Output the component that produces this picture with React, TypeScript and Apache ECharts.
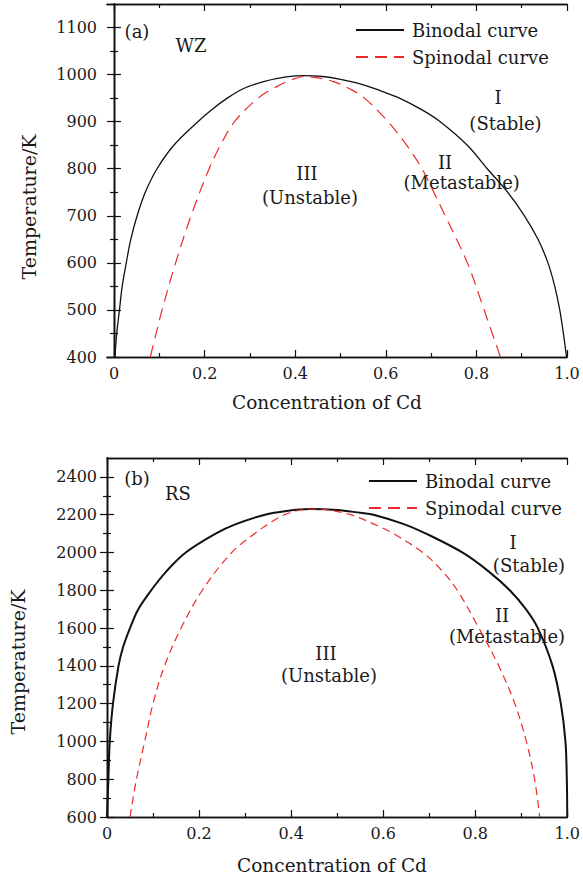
import React, { useEffect, useRef } from "react";
import * as echarts from "echarts";

// ---- data ----
const X_MAJOR = [0, 0.2, 0.4, 0.6, 0.8, 1.0];
const X_MINOR = [0.1, 0.3, 0.5, 0.7, 0.9];
const WZ_T_MAJOR = [400, 500, 600, 700, 800, 900, 1000, 1100];
const WZ_T_MINOR = [450, 550, 650, 750, 850, 950, 1050];
const RS_T_MAJOR = [600, 800, 1000, 1200, 1400, 1600, 1800, 2000, 2200, 2400];
const RS_T_MINOR = [700, 900, 1100, 1300, 1500, 1700, 1900, 2100, 2300];

const WZ_BINODAL_X = [0.002, 0.006, 0.012, 0.018, 0.027, 0.037, 0.051, 0.069, 0.095, 0.132, 0.185, 0.215, 0.25, 0.285, 0.33, 0.38, 0.42, 0.46, 0.5, 0.545, 0.59, 0.63, 0.68, 0.72, 0.78, 0.824, 0.869, 0.906, 0.936, 0.958, 0.973, 0.984, 0.992, 0.999];
const WZ_BINODAL_T = [400, 450, 500, 550, 600, 650, 700, 750, 800, 850, 900, 925, 950, 970, 985, 995, 998, 996, 990, 980, 965, 950, 925, 900, 850, 800, 750, 700, 650, 600, 550, 500, 450, 400];

const WZ_SPINODAL_X = [0.08, 0.093, 0.106, 0.136, 0.17, 0.21, 0.235, 0.266, 0.318, 0.36, 0.395, 0.42, 0.45, 0.485, 0.52, 0.553, 0.605, 0.646, 0.68, 0.706, 0.731, 0.78, 0.817, 0.853];
const WZ_SPINODAL_T = [400, 450, 500, 600, 700, 800, 850, 900, 950, 975, 990, 996, 993, 985, 970, 950, 900, 850, 800, 750, 700, 600, 500, 400];

const RS_BINODAL_X = [0.0, 0.003, 0.006, 0.013, 0.025, 0.035, 0.05, 0.068, 0.096, 0.129, 0.171, 0.236, 0.28, 0.343, 0.39, 0.44, 0.5, 0.55, 0.579, 0.645, 0.693, 0.772, 0.829, 0.875, 0.91, 0.936, 0.968, 0.986, 0.996, 0.999, 1.0];
const RS_BINODAL_T = [600, 800, 1000, 1200, 1400, 1500, 1600, 1700, 1800, 1900, 2000, 2100, 2150, 2200, 2220, 2230, 2225, 2210, 2200, 2150, 2100, 2000, 1900, 1800, 1700, 1600, 1400, 1200, 1000, 800, 600];

const RS_SPINODAL_X = [0.05, 0.064, 0.082, 0.1, 0.125, 0.161, 0.207, 0.271, 0.321, 0.35, 0.386, 0.44, 0.48, 0.529, 0.58, 0.622, 0.686, 0.729, 0.761, 0.808, 0.851, 0.886, 0.911, 0.929, 0.94];
const RS_SPINODAL_T = [600, 800, 1000, 1200, 1400, 1600, 1800, 2000, 2100, 2150, 2200, 2230, 2225, 2200, 2150, 2100, 2000, 1900, 1800, 1600, 1400, 1200, 1000, 800, 600];

const SERIES_NAMES = ["Binodal curve", "Spinodal curve"];
const X_TITLE = "Concentration of Cd";
const Y_TITLE = "Temperature/K";

const zip = (xs: number[], ys: number[]) => xs.map((x, i) => [x, ys[i]]);

const FONT = "DejaVu Serif";
const INK = "#1a1a1a";
const RED = "#ee2a2a";
const TICK_FONT = 16;

function xAxes(grid: number, min: number, max: number) {
  const base = {
    type: "value",
    gridIndex: grid,
    min,
    max,
    splitLine: { show: false },
    axisLine: { show: true, lineStyle: { color: "#111", width: 1.3 } },
  };
  const major = { show: true, inside: true, length: 7, customValues: X_MAJOR, lineStyle: { color: "#111", width: 1.2 } };
  const minor = { show: true, inside: true, length: 4, customValues: X_MINOR, lineStyle: { color: "#111", width: 1.2 } };
  return [
    {
      ...base,
      position: "bottom",
      axisTick: major,
      axisLabel: {
        show: true,
        customValues: X_MAJOR,
        formatter: (v: number) => (v === 0 ? "0" : v.toFixed(1)),
        margin: 8,
        fontFamily: FONT,
        fontSize: TICK_FONT,
        color: INK,
      },
    },
    { ...base, position: "bottom", axisTick: minor, axisLabel: { show: false } },
    { ...base, position: "top", axisTick: major, axisLabel: { show: false } },
    { ...base, position: "top", axisTick: minor, axisLabel: { show: false } },
  ];
}

function yAxes(grid: number, min: number, max: number, majors: number[], minors: number[]) {
  const base = {
    type: "value",
    gridIndex: grid,
    min,
    max,
    splitLine: { show: false },
    axisLine: { show: true, lineStyle: { color: "#111", width: 1.3 } },
  };
  const major = { show: true, inside: true, length: 7, customValues: majors, lineStyle: { color: "#111", width: 1.2 } };
  const minor = { show: true, inside: true, length: 4, customValues: minors, lineStyle: { color: "#111", width: 1.2 } };
  return [
    {
      ...base,
      position: "left",
      axisTick: major,
      axisLabel: {
        show: true,
        customValues: majors,
        formatter: (v: number) => String(Math.round(v)),
        margin: 10,
        fontFamily: FONT,
        fontSize: TICK_FONT,
        color: INK,
      },
    },
    { ...base, position: "left", axisTick: minor, axisLabel: { show: false } },
    { ...base, position: "right", axisTick: major, axisLabel: { show: false } },
    { ...base, position: "right", axisTick: minor, axisLabel: { show: false } },
  ];
}

function txt(text: string, x: number, y: number, size = 18, extra: any = {}) {
  return {
    type: "text",
    x,
    y,
    ...extra,
    style: {
      text,
      fontFamily: FONT,
      fontSize: size,
      fill: INK,
      align: "center",
      verticalAlign: "middle",
    },
  };
}

function legendAt(left: number, top: number) {
  return {
    data: SERIES_NAMES,
    orient: "vertical",
    left,
    top,
    padding: 0,
    itemWidth: 48,
    itemHeight: 14,
    itemGap: 9,
    itemStyle: { opacity: 0 },
    textStyle: { fontFamily: FONT, fontSize: 18, color: INK, padding: [0, 0, 0, 3] },
  };
}

export default function App() {
  const ref = useRef<HTMLDivElement>(null);
  useEffect(() => {
    if (!ref.current) return;
    const chart = echarts.init(ref.current, undefined, { renderer: "svg" });
    const option: any = {
      animation: false,
      backgroundColor: "#fff",
      grid: [
        { left: 107, top: 4, width: 460, height: 353 },
        { left: 107, top: 458, width: 467, height: 359 },
      ],
      xAxis: [...xAxes(0, -0.0155, 1.0), ...xAxes(1, 0, 1.0)],
      yAxis: [
        ...yAxes(0, 400, 1150, WZ_T_MAJOR, WZ_T_MINOR),
        ...yAxes(1, 600, 2500, RS_T_MAJOR, RS_T_MINOR),
      ],
      legend: [legendAt(355, 21), legendAt(368, 472)],
      series: [
        {
          type: "line",
          name: SERIES_NAMES[0],
          xAxisIndex: 0,
          yAxisIndex: 0,
          data: zip(WZ_BINODAL_X, WZ_BINODAL_T),
          symbol: "none",
          smooth: 0.35,
          color: "#111",
          lineStyle: { color: "#111", width: 1.3 },
        },
        {
          type: "line",
          name: SERIES_NAMES[1],
          xAxisIndex: 0,
          yAxisIndex: 0,
          data: zip(WZ_SPINODAL_X, WZ_SPINODAL_T),
          symbol: "none",
          smooth: 0.35,
          color: RED,
          lineStyle: { color: RED, width: 1.2, type: [12, 7] },
        },
        {
          type: "line",
          name: SERIES_NAMES[0],
          xAxisIndex: 4,
          yAxisIndex: 4,
          data: zip(RS_BINODAL_X, RS_BINODAL_T),
          symbol: "none",
          smooth: 0.35,
          color: "#111",
          lineStyle: { color: "#111", width: 2 },
        },
        {
          type: "line",
          name: SERIES_NAMES[1],
          xAxisIndex: 4,
          yAxisIndex: 4,
          data: zip(RS_SPINODAL_X, RS_SPINODAL_T),
          symbol: "none",
          smooth: 0.35,
          color: RED,
          lineStyle: { color: RED, width: 1.2, type: [8, 5] },
        },
      ],
      graphic: [
        txt("(a)", 137, 31),
        txt("WZ", 191, 45),
        txt("I", 498, 97),
        txt("(Stable)", 505.5, 123),
        txt("II", 445, 162),
        txt("(Metastable)", 461.7, 182),
        txt("III", 307, 173),
        txt("(Unstable)", 310, 197),
        txt(X_TITLE, 327, 402, 18.5),
        txt(Y_TITLE, 29, 207, 19, { rotation: Math.PI / 2 }),
        txt("(b)", 137, 478),
        txt("RS", 178, 493),
        txt("I", 513, 542),
        txt("(Stable)", 529, 565),
        txt("II", 502, 615),
        txt("(Metastable)", 507, 636),
        txt("III", 326, 653),
        txt("(Unstable)", 329, 675),
        txt(X_TITLE, 332, 865, 18.5),
        txt(Y_TITLE, 18, 662, 19, { rotation: Math.PI / 2 }),
      ],
    };
    chart.setOption(option);
    return () => chart.dispose();
  }, []);
  return (
    <div
      ref={ref}
      style={{ position: "absolute", left: 0, top: 0, width: 583, height: 878 }}
    />
  );
}
